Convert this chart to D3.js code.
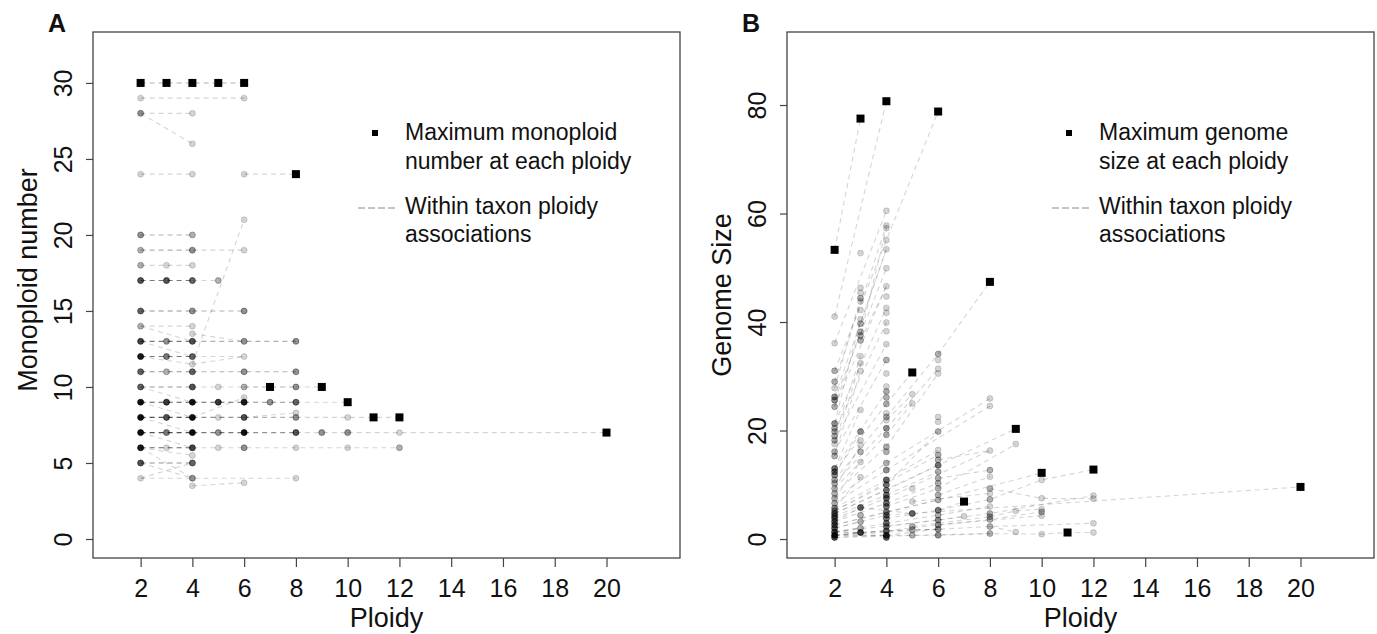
<!DOCTYPE html>
<html><head><meta charset="utf-8">
<script src="https://cdn.jsdelivr.net/npm/d3@7"></script>
<style>
html,body{margin:0;padding:0;background:#fff;}
svg{display:block;font-family:"Liberation Sans",Arial,sans-serif;}
</style></head>
<body><svg id="c" width="1377" height="634"></svg>
<script>
// ---------- DATA ----------
const ploidyTicks = [2,4,6,8,10,12,14,16,18,20];
const monoTicks = [0,5,10,15,20,25,30];
const genomeTicks = [0,20,40,60,80];

// Panel A: maximum monoploid number per ploidy
const maxMonoA = [[2,30],[3,30],[4,30],[5,30],[6,30],[7,10],[8,24],[9,10],[10,9],[11,8],[12,8],[20,7]];
// Panel A observed points: [ploidy, monoploid number, number of overlapping records]
const dotsA = [
 [2,29,1],[6,29,1],[2,28,3],[4,28,1],[4,26,1],[2,24,1],[4,24,1],[6,24,1],[6,21,1],
 [2,20,3],[4,20,2],[2,19,2],[4,19,3],[6,19,1],[2,18,2],[3,18,1],[4,18,1],
 [2,17,6],[3,17,6],[4,17,5],[5,17,2],[2,15,5],[4,15,3],[6,15,3],[2,14,2],[4,14,1],[4,13.5,1],
 [2,13,7],[3,13,3],[4,13,6],[6,13,3],[8,13,3],
 [2,12,12],[3,12,4],[4,12,5],[6,12,1],[4,11.5,1],
 [2,11,5],[3,11,2],[4,11,5],[6,11,3],[8,11,3],
 [2,10,5],[4,10,6],[5,10,1],[6,10,2],[8,10,3],[6,9.3,1],
 [2,9,15],[3,9,8],[4,9,15],[5,9,8],[6,9,12],[7,9,3],[8,9,5],[8,8.3,1],
 [2,8,15],[3,8,6],[4,8,15],[5,8,1],[6,8,6],[8,8,3],[10,8,1],
 [2,7,16],[3,7,4],[4,7,16],[5,7,3],[6,7,15],[8,7,6],[9,7,3],[10,7,3],[12,7,1],
 [2,6,12],[3,6,1],[4,6,7],[5,6,1],[6,6,3],[8,6,1],[10,6,1],[12,6,2],[4,5.5,1],
 [2,5,6],[4,5,5],[2,4,1],[4,4,3],[8,4,1],[4,3.5,1],[6,3.7,1]
];
// Panel A within-taxon associations: [number of taxa, [[ploidy, monoploid], ...]]
const taxaA = [
 [2,[[2,30],[3,30],[4,30],[5,30],[6,30]]],[1,[[2,29],[6,29]]],[1,[[2,28],[4,28]]],[1,[[2,28],[4,26]]],
 [1,[[2,24],[4,24]]],[1,[[6,24],[8,24]]],[1,[[4,11.5],[6,21]]],[2,[[2,20],[4,20]]],
 [2,[[2,19],[4,19]]],[1,[[4,19],[6,19]]],[1,[[2,18],[3,18],[4,18]]],
 [4,[[2,17],[3,17],[4,17]]],[1,[[4,17],[5,17]]],[3,[[2,15],[4,15]]],[2,[[4,15],[6,15]]],
 [1,[[2,14],[4,14]]],[4,[[2,13],[3,13],[4,13]]],[2,[[4,13],[6,13],[8,13]]],
 [4,[[2,12],[3,12],[4,12]]],[1,[[4,12],[6,12]]],[3,[[2,11],[3,11],[4,11]]],[2,[[4,11],[6,11],[8,11]]],
 [3,[[2,10],[4,10]]],[1,[[4,10],[5,10],[6,10]]],[2,[[6,10],[7,10],[8,10]]],[1,[[8,10],[9,10]]],
 [6,[[2,9],[3,9],[4,9]]],[5,[[4,9],[5,9],[6,9]]],[3,[[6,9],[7,9],[8,9]]],[1,[[8,9],[10,9]]],
 [6,[[2,8],[3,8],[4,8]]],[3,[[4,8],[5,8],[6,8]]],[2,[[6,8],[8,8]]],[1,[[8,8],[10,8],[11,8],[12,8]]],
 [6,[[2,7],[3,7],[4,7]]],[4,[[4,7],[5,7],[6,7]]],[3,[[6,7],[8,7]]],[1,[[8,7],[9,7],[10,7]]],[1,[[10,7],[12,7],[20,7]]],
 [5,[[2,6],[3,6],[4,6]]],[1,[[4,6],[5,6],[6,6],[8,6],[10,6],[12,6]]],
 [3,[[2,5],[4,5]]],[1,[[2,4],[4,4],[8,4]]],[1,[[4,3.5],[6,3.7]]],
 [1,[[2,14],[4,13]]],[1,[[2,13],[4,12]]],[1,[[2,12],[4,11.5]]],[1,[[4,11.5],[6,12]]],[1,[[4,13.5],[6,13]]],
 [1,[[2,10],[4,9]]],[1,[[2,8],[4,7]]],[1,[[2,7],[4,6]]],[1,[[2,6],[4,5.5]]],[1,[[2,6],[4,4]]],
 [1,[[2,5],[4,4]]],[1,[[2,4],[4,5]]],[1,[[4,8],[6,9.3]]],[1,[[6,8],[8,8.3]]],[1,[[2,9],[4,8]]]
];

// Panel B: maximum genome size per ploidy
const maxGenomeB = [[2,53.3],[3,77.5],[4,80.7],[5,30.7],[6,78.8],[7,6.9],[8,47.4],[9,20.3],[10,12.2],[11,1.2],[12,12.8],[20,9.6]];
// Panel B observed points: [ploidy, genome size, number of overlapping records]
const dotsB = [
 [2,41.0,1],[2,36.1,1],[2,31.0,2],[2,29.0,2],[2,27.8,1],[2,26.2,3],[2,25.6,3],[2,24.4,2],[2,21.3,3],[2,20.4,2],
 [2,19.8,2],[2,19.0,2],[2,18.2,2],[2,17.5,1],[2,16.1,2],[2,15.3,2],[2,13.0,4],[2,12.4,4],[2,11.8,3],[2,10.9,2],
 [2,10.3,2],[2,9.3,2],[2,8.4,2],[2,7.5,2],[2,6.6,2],[2,5.7,3],[2,5.2,3],[2,4.7,5],[2,4.2,4],[2,3.8,4],
 [2,3.2,5],[2,2.6,5],[2,2.0,5],[2,1.3,6],[2,0.7,10],[2,0.3,6],
 [3,52.7,1],[3,46.3,1],[3,45.4,1],[3,44.4,2],[3,43.8,1],[3,42.2,1],[3,40.5,1],[3,39.7,2],[3,38.2,2],[3,37.5,2],
 [3,36.6,2],[3,33.7,1],[3,32.4,1],[3,31.0,1],[3,23.8,1],[3,19.8,3],[3,18.2,1],[3,17.3,1],[3,16.1,2],[3,14.2,1],
 [3,11.4,1],[3,5.8,5],[3,4.4,2],[3,3.2,2],[3,2.0,2],[3,1.2,8],
 [4,60.5,1],[4,57.8,1],[4,57.3,1],[4,55.1,1],[4,53.4,1],[4,49.9,1],[4,46.6,1],[4,44.7,1],[4,42.6,1],[4,41.7,1],
 [4,39.9,1],[4,38.3,1],[4,35.9,1],[4,33.0,2],[4,30.5,1],[4,28.1,1],[4,27.2,2],[4,26.1,2],[4,24.9,2],[4,23.2,1],
 [4,22.5,2],[4,21.9,1],[4,20.4,3],[4,19.2,2],[4,17.0,2],[4,16.1,2],[4,14.0,2],[4,12.7,3],[4,10.9,5],[4,10.0,4],
 [4,9.0,4],[4,8.1,4],[4,7.5,5],[4,6.6,4],[4,6.0,4],[4,5.0,4],[4,4.4,4],[4,3.8,4],[4,2.9,4],[4,2.3,4],
 [4,1.5,5],[4,0.7,8],[4,0.3,5],
 [5,26.7,1],[5,25.0,1],[5,9.3,1],[5,6.9,1],[5,4.7,5],[5,2.3,2],[5,1.7,2],[5,0.7,2],
 [6,34.1,2],[6,33.0,1],[6,31.4,1],[6,30.5,1],[6,22.5,1],[6,21.6,1],[6,19.8,2],[6,16.4,1],[6,15.5,2],[6,14.6,2],
 [6,13.6,4],[6,12.4,2],[6,11.2,2],[6,10.3,2],[6,9.3,2],[6,8.1,2],[6,7.2,2],[6,5.3,4],[6,4.4,2],[6,3.5,3],
 [6,2.6,3],[6,1.8,3],[6,0.7,3],
 [7,4.2,1],
 [8,25.9,1],[8,24.5,1],[8,16.3,1],[8,12.7,2],[8,11.5,1],[8,9.3,2],[8,8.4,1],[8,7.3,2],[8,6.0,1],[8,4.7,2],
 [8,4.1,2],[8,3.6,2],[8,2.3,2],[8,1.0,2],
 [9,17.5,1],[9,5.2,1],[9,1.3,1],
 [10,10.9,1],[10,7.5,1],[10,5.5,1],[10,5.0,2],[10,4.3,1],[10,0.9,1],
 [12,8.0,1],[12,7.4,1],[12,2.9,1],[12,1.2,1]
];
// Panel B within-taxon associations: [number of taxa, [[ploidy, genome size], ...]]
const taxaB = [
 [1,[[2,53.3],[3,77.5]]],[1,[[2,41.0],[4,80.7]]],[1,[[2,31.0],[4,55.1],[6,78.8]]],[1,[[2,29.0],[4,57.8]]],
 [1,[[2,26.2],[4,53.4]]],[1,[[2,25.6],[4,49.9]]],[1,[[2,24.4],[3,38.2]]],[1,[[2,21.3],[4,42.6]]],
 [1,[[2,36.1],[4,60.5]]],[1,[[2,27.8],[3,44.4]]],[1,[[2,24.4],[4,46.6]]],[1,[[2,21.3],[3,40.5]]],
 [1,[[2,19.8],[4,39.9]]],[1,[[2,19.0],[3,33.7]]],[1,[[2,18.2],[4,35.9]]],[1,[[2,17.5],[3,32.4]]],
 [1,[[2,16.1],[4,33.0]]],[1,[[2,15.3],[3,31.0]]],[1,[[2,13.0],[4,27.2]]],[1,[[2,13.0],[3,23.8]]],
 [1,[[2,12.4],[4,24.9]]],[1,[[2,11.8],[3,19.8]]],[1,[[2,10.9],[4,22.5]]],[1,[[2,10.3],[4,20.4]]],
 [1,[[2,9.3],[3,17.3]]],[1,[[2,9.3],[4,19.2]]],[1,[[2,8.4],[4,17.0]]],[1,[[2,7.5],[3,14.2]]],
 [1,[[2,7.5],[4,14.0]]],[1,[[2,6.6],[4,12.7]]],[1,[[2,5.7],[3,11.4]]],[1,[[2,5.7],[4,10.9]]],
 [1,[[2,5.2],[4,10.0]]],[1,[[2,4.7],[4,9.0]]],[1,[[2,4.2],[4,8.1]]],[1,[[2,3.8],[4,7.5]]],
 [1,[[2,3.2],[4,6.6]]],[1,[[2,3.2],[3,5.8]]],[1,[[2,2.6],[4,5.0]]],[1,[[2,2.0],[4,4.4]]],
 [1,[[2,2.0],[3,3.2]]],[1,[[2,1.3],[4,2.9]]],[1,[[2,1.3],[3,2.0]]],[2,[[2,0.7],[3,1.2]]],
 [1,[[2,0.7],[4,1.5]]],[1,[[2,0.3],[4,0.7]]],[2,[[2,0.7],[4,0.7]]],[1,[[2,4.7],[6,13.6]]],
 [1,[[2,2.6],[6,7.2]]],[1,[[2,1.3],[6,3.5]]],[1,[[2,0.7],[6,1.8]]],[1,[[2,0.3],[8,1.0]]],
 [1,[[2,5.2],[6,15.5]]],[1,[[3,37.5],[4,57.3]]],[1,[[3,39.7],[4,53.4]]],[1,[[3,36.6],[4,46.6]]],
 [1,[[4,22.5],[6,34.1],[8,47.4]]],[1,[[4,24.9],[5,30.7]]],[1,[[4,21.9],[5,26.7]]],[1,[[4,20.4],[6,31.4]]],
 [1,[[4,19.2],[5,25.0]]],[1,[[4,17.0],[6,30.5]]],[1,[[4,12.7],[8,24.5]]],[1,[[4,14.0],[8,25.9]]],
 [1,[[4,10.9],[6,16.4]]],[1,[[4,10.0],[6,19.8]]],[1,[[4,9.0],[6,13.6],[9,20.3]]],[1,[[4,8.1],[6,12.4]]],
 [1,[[4,7.5],[8,16.3]]],[1,[[4,6.6],[6,10.3]]],[1,[[4,6.0],[6,9.3],[9,17.5]]],[1,[[4,5.0],[6,7.2],[10,12.2]]],
 [1,[[4,4.4],[20,9.6]]],[1,[[4,3.8],[6,5.3],[8,7.3],[10,10.9],[12,12.8]]],[1,[[4,2.9],[6,4.4],[8,6.0]]],
 [1,[[4,2.3],[6,3.5],[8,4.7],[12,8.0]]],[1,[[4,1.5],[6,2.6],[8,3.6],[10,5.0]]],[1,[[4,0.7],[6,1.8],[8,2.3],[12,2.9]]],
 [1,[[4,0.7],[5,0.7],[6,0.7],[8,1.0],[10,0.9],[11,1.2],[12,1.2]]],[1,[[6,5.3],[7,6.9]]],[1,[[6,3.5],[7,4.2]]],
 [1,[[6,11.2],[8,12.7]]],[1,[[8,9.3],[10,7.5],[12,7.4]]],[1,[[8,4.1],[9,5.2],[10,5.5]]],[1,[[8,2.3],[9,1.3]]],
 [1,[[3,5.8],[5,4.7]]],[2,[[2,1.3],[3,1.2],[4,1.5],[5,1.7],[6,1.8]]],[1,[[5,2.3],[8,4.1]]],[1,[[5,6.9],[8,8.4]]],
 [1,[[6,14.6],[8,16.3]]],[1,[[6,8.1],[8,11.5]]],[1,[[6,2.6],[10,4.3]]]
];

const legendA = {sq:["Maximum monoploid","number at each ploidy"], ln:["Within taxon ploidy","associations"]};
const legendB = {sq:["Maximum genome","size at each ploidy"], ln:["Within taxon ploidy","associations"]};

// ---------- DRAW ----------
const svg = d3.select("#c");
const FONT = '"Liberation Sans", Arial, sans-serif';
const dotAlpha = 0.17, lineAlpha = 0.17;
const op = (a,n) => 1 - Math.pow(1-a, n);

function panel(cfg){
  const {x0,x1,y0,y1,yDom,yTicks,dots,taxa,maxes,letter,ylab,ylabY,leg} = cfg;
  const x = d3.scaleLinear().domain([0.16,22.84]).range([x0,x1]);
  const y = d3.scaleLinear().domain(yDom).range([y1,y0]);
  const g = svg.append("g");
  const line = d3.line().x(d=>x(d[0])).y(d=>y(d[1]));

  g.append("g").selectAll("path").data(taxa).join("path")
    .attr("d", d=>line(d[1])).attr("fill","none")
    .attr("stroke","#000").attr("stroke-opacity", d=>op(lineAlpha,d[0]))
    .attr("stroke-width",1.1).attr("stroke-dasharray","5,4");

  g.append("g").selectAll("circle").data(dots).join("circle")
    .attr("cx", d=>x(d[0])).attr("cy", d=>y(d[1])).attr("r",3)
    .attr("fill","#000").attr("fill-opacity", d=>op(dotAlpha,d[2]))
    .attr("stroke","#000").attr("stroke-opacity", d=>Math.min(1,op(dotAlpha,d[2])*1.2)).attr("stroke-width",0.7);

  g.append("g").selectAll("rect").data(maxes).join("rect")
    .attr("x", d=>x(d[0])-4).attr("y", d=>y(d[1])-4).attr("width",8).attr("height",8).attr("fill","#000");

  // box
  g.append("rect").attr("x",x0).attr("y",y0).attr("width",x1-x0).attr("height",y1-y0)
    .attr("fill","none").attr("stroke","#444").attr("stroke-width",1.3);

  // x axis
  const ax = g.append("g").attr("transform",`translate(0,${y1})`)
    .call(d3.axisBottom(x).tickValues(ploidyTicks).tickSize(9).tickPadding(12).tickFormat(d3.format("d")));
  ax.select(".domain").remove();
  ax.selectAll("line").attr("stroke","#444").attr("stroke-width",1.2);
  ax.selectAll("text").attr("font-size",25).attr("font-family",FONT).attr("fill","#111");

  // y axis (rotated labels as in R)
  const ay = g.append("g").attr("transform",`translate(${x0},0)`)
    .call(d3.axisLeft(y).tickValues(yTicks).tickSize(7).tickFormat(d3.format("d")));
  ay.select(".domain").remove();
  ay.selectAll("line").attr("stroke","#444").attr("stroke-width",1.2);
  ay.selectAll("text").attr("font-size",25).attr("font-family",FONT).attr("fill","#111")
    .attr("transform","rotate(-90)").attr("x",0).attr("y",-21).attr("dy",0)
    .attr("text-anchor","middle");

  // titles
  g.append("text").attr("x",(x0+x1)/2).attr("y",627).attr("text-anchor","middle")
    .attr("font-size",27).attr("fill","#111").text("Ploidy");
  g.append("text").attr("transform",`translate(${x0-56},${ylabY}) rotate(-90)`)
    .attr("text-anchor","middle").attr("font-size",27).attr("fill","#111").text(ylab);
  g.append("text").attr("x",x0-45).attr("y",32).attr("font-size",25).attr("font-weight","bold")
    .attr("fill","#111").text(letter);

  // legend
  const lx = x0 + 312;
  g.append("rect").attr("x",lx-30-3).attr("y",133-3).attr("width",6).attr("height",6).attr("fill","#000");
  g.append("line").attr("x1",lx-47).attr("x2",lx-7).attr("y1",208).attr("y2",208)
    .attr("stroke","#888").attr("stroke-width",1).attr("stroke-dasharray","7,3");
  const lt = g.append("g").attr("font-size",23).attr("fill","#111");
  [[leg.sq[0],140],[leg.sq[1],169],[leg.ln[0],214],[leg.ln[1],242]].forEach(([t,yy])=>{
    lt.append("text").attr("x",lx).attr("y",yy).text(t);
  });
}

panel({x0:93,x1:680,y0:32,y1:558,yDom:[-1.25,33.35],yTicks:monoTicks,dots:dotsA,taxa:taxaA,maxes:maxMonoA,
  letter:"A",ylab:"Monoploid number",ylabY:280,leg:legendA});
panel({x0:787,x1:1374,y0:32,y1:558,yDom:[-3.5,93.46],yTicks:genomeTicks,dots:dotsB,taxa:taxaB,maxes:maxGenomeB,
  letter:"B",ylab:"Genome Size",ylabY:295,leg:legendB});
</script></body></html>
